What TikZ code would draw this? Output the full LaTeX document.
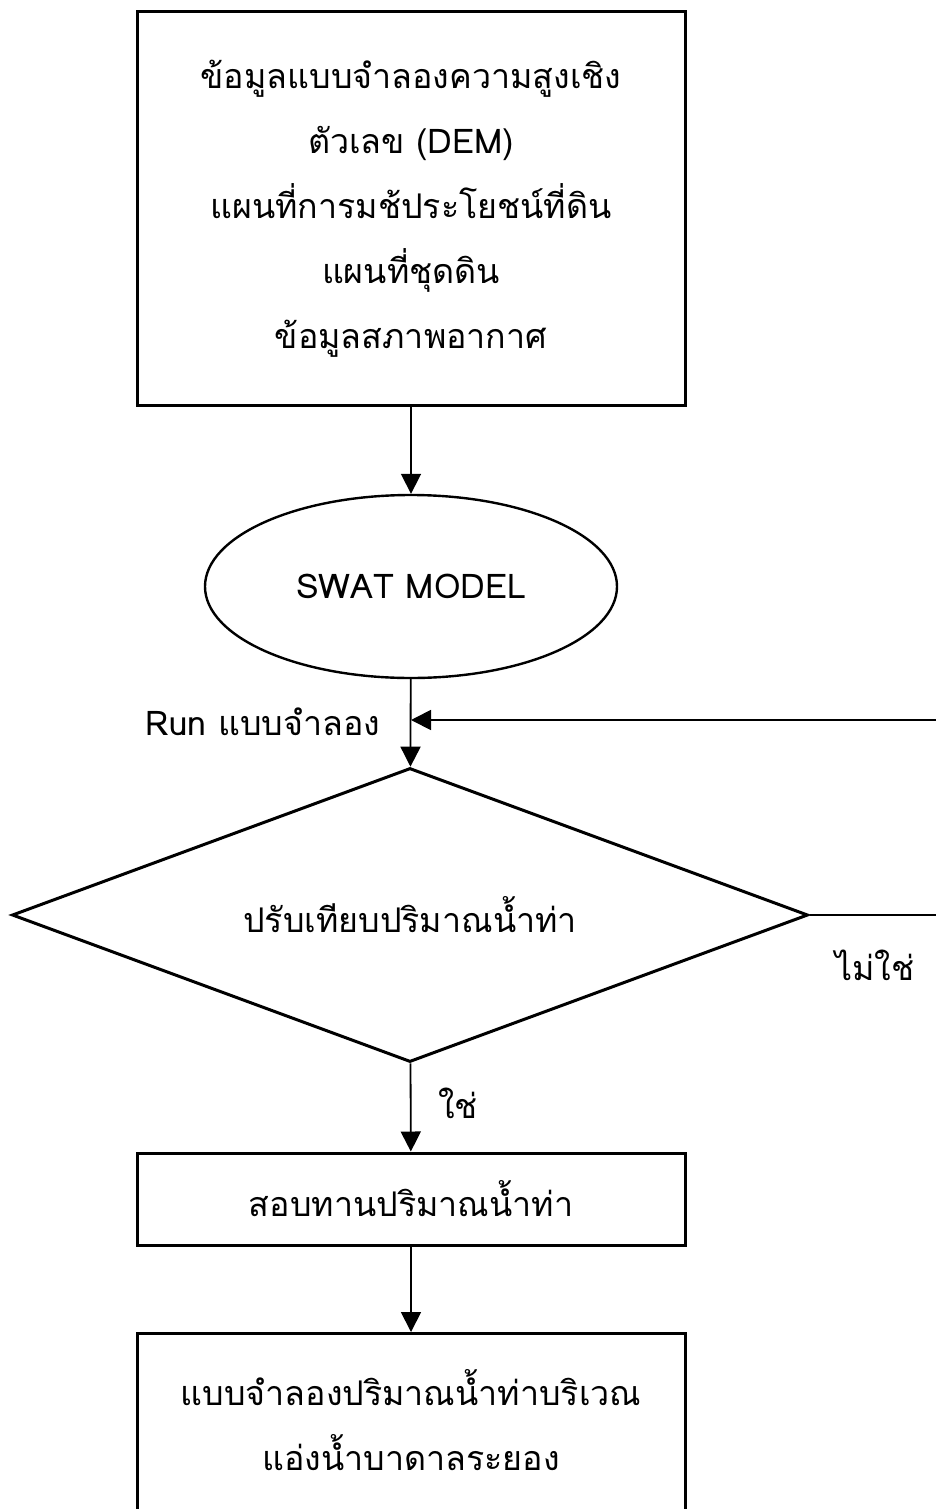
\documentclass[tikz,border=0pt]{standalone}
\usepackage{fontspec}
\newfontfamily\thaifont[Script=Thai]{Loma}
\usetikzlibrary{arrows.meta,shapes.geometric}
\begin{document}
\begin{tikzpicture}[x=0.5pt,y=-0.5pt,
  every node/.style={font=\thaifont\fontsize{17}{32.5}\selectfont, align=center},
  box/.style={draw, line width=1.5pt, rectangle, minimum width=274pt, inner sep=0pt},
  conn/.style={line width=0.9pt, -{Triangle[length=10pt,width=10pt]}},
  plain/.style={line width=0.9pt}]
\useasboundingbox (0,0) rectangle (936,1509);
\clip (0,0) rectangle (936,1509);
\node[box, minimum height=196.5pt] (data) at (411,208.5)
  {ข้อมูลแบบจำลองความสูงเชิง\\ตัวเลข (DEM)\\แผนที่การมช้ประโยชน์ที่ดิน\\แผนที่ชุดดิน\\ข้อมูลสภาพอากาศ};
\node[ellipse, draw, line width=1.2pt, minimum width=206pt, minimum height=91.5pt, inner sep=0pt] (swat) at (411,586.5) {SWAT MODEL};
\node[diamond, draw, line width=1.5pt, aspect=2.707, minimum width=398pt, minimum height=147pt, inner sep=0pt] (cal) at (410,915) {ปรับเทียบปริมาณน้ำท่า};
\node[box, minimum height=46pt] (ver) at (411,1199) {สอบทานปริมาณน้ำท่า};
\node[box, minimum height=100pt, anchor=north] (res) at (411,1332) {};
\node (restext) at (411,1420) {แบบจำลองปริมาณน้ำท่าบริเวณ\\แอ่งน้ำบาดาลระยอง};
\coordinate (join) at (411,720);
\coordinate (rightEnd) at (940,720);
\coordinate (rightOut) at (940,915);
\draw[conn] (data) -- (swat);
\draw[conn] (swat) -- (cal);
\draw[conn] (rightEnd) -- (join);
\draw[plain] (cal.east) -- (rightOut);
\draw[conn] (cal) -- (ver);
\draw[conn] (ver) -- (res);
\node (runlbl) at (263,722) {Run แบบจำลอง};
\node (nolbl) at (875,965) {ไม่ใช่};
\node (yeslbl) at (458,1103) {ใช่};
\end{tikzpicture}
\end{document}
